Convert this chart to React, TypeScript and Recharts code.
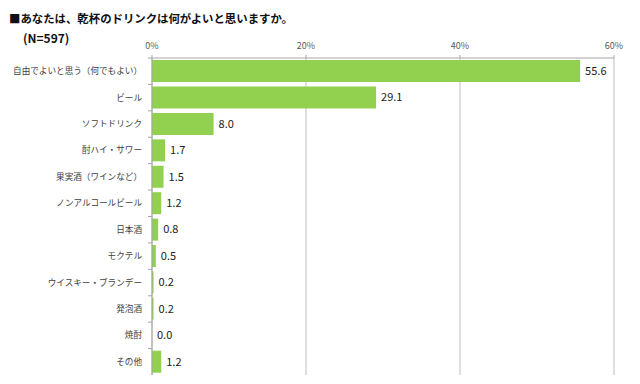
import { BarChart, Bar, XAxis, YAxis, CartesianGrid } from "recharts";

const categories = [
  "自由でよいと思う（何でもよい）",
  "ビール",
  "ソフトドリンク",
  "酎ハイ・サワー",
  "果実酒（ワインなど）",
  "ノンアルコールビール",
  "日本酒",
  "モクテル",
  "ウイスキー・ブランデー",
  "発泡酒",
  "焼酎",
  "その他",
];

const values = [55.6, 29.1, 8.0, 1.7, 1.5, 1.2, 0.8, 0.5, 0.2, 0.2, 0.0, 1.2];

const xTicks = [0, 20, 40, 60];

const data = categories.map((name, i) => ({ name, value: values[i] }));

const FONT = '"Noto Sans CJK JP", "Noto Sans", sans-serif';

// category label plus a small tick mark on the boundary between categories
const CategoryTick = (props: any) => {
  const { x, y, payload } = props;
  const half = payload && payload.offset ? payload.offset : 13;
  return (
    <g>
      <line x1={x + 6} x2={x + 10} y1={y - half} y2={y - half} stroke="#a6a6a6" />
      <text x={x} y={y} dy="0.35em" textAnchor="end" fontSize={8.6} fill="#404040" fontFamily={FONT}>
        {payload.value}
      </text>
    </g>
  );
};

const ValueLabel = (props: any) => {
  const { x, y, width, height, value } = props;
  return (
    <text
      x={Number(x) + Number(width) + 5}
      y={Number(y) + Number(height) / 2}
      dy="0.35em"
      fontSize={11}
      fill="#222"
      fontFamily={FONT}
    >
      {Number(value).toFixed(1)}
    </text>
  );
};

const App = () => {
  return (
    <div style={{ position: "absolute", left: 0, top: 0, width: 640, height: 384, background: "#fff", fontFamily: FONT }}>
      <div style={{ position: "absolute", left: 9, top: 10, fontSize: 11.4, fontWeight: 700, color: "#111", whiteSpace: "nowrap" }}>
        ■あなたは、乾杯のドリンクは何がよいと思いますか。
      </div>
      <div style={{ position: "absolute", left: 23, top: 29, fontSize: 12, fontWeight: 700, color: "#111" }}>
        (N=597)
      </div>
      <BarChart
        width={640}
        height={384}
        data={data}
        layout="vertical"
        barCategoryGap="8%"
        margin={{ top: 28, right: 26, left: 0, bottom: 9 }}
      >
        <CartesianGrid horizontal={false} stroke="#bfbfbf" />
        <XAxis
          type="number"
          orientation="top"
          domain={[0, 60]}
          ticks={xTicks}
          tickFormatter={(v) => `${v}%`}
          height={30}
          tickSize={3}
          tickMargin={6}
          axisLine={{ stroke: "#a6a6a6" }}
          tickLine={{ stroke: "#a6a6a6" }}
          tick={{ fontSize: 9, fill: "#595959", fontFamily: FONT }}
        />
        <XAxis
          xAxisId="bottom"
          type="number"
          orientation="bottom"
          domain={[0, 60]}
          height={0}
          tick={false}
          tickLine={false}
          axisLine={{ stroke: "#a6a6a6" }}
        />
        <YAxis
          type="category"
          dataKey="name"
          width={152}
          interval={0}
          tickSize={4}
          tickMargin={6}
          tickLine={false}
          axisLine={{ stroke: "#a6a6a6" }}
          tick={<CategoryTick />}
        />
        <Bar
          dataKey="value"
          fill="#92d050"
          isAnimationActive={false}
          minPointSize={(v: number) => (v === 0 ? 0.01 : 0)}
          label={<ValueLabel />}
        />
      </BarChart>
    </div>
  );
};

export default App;
